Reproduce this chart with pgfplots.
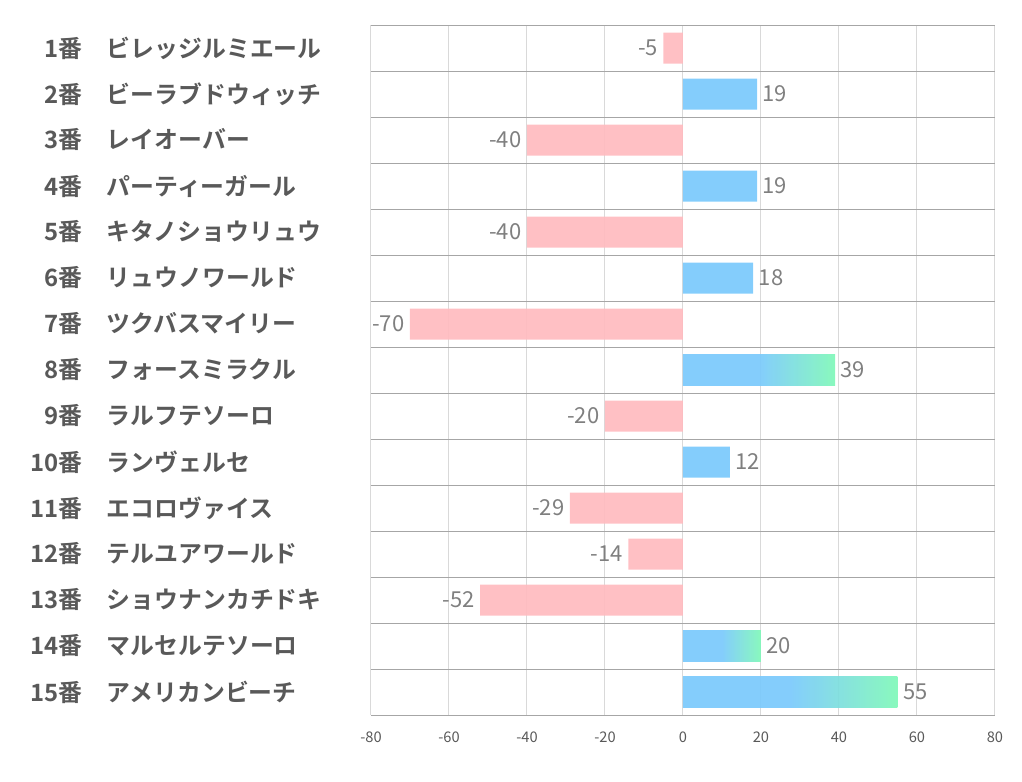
\documentclass[border=0pt]{standalone}
\usepackage{fontspec}
\setmainfont{Noto Sans CJK JP}[BoldFont={Noto Sans CJK JP Bold}]
\usepackage{pgfplots}
\pgfplotsset{compat=1.18}
\definecolor{barpink}{HTML}{FFBBBF}
\definecolor{barblue}{HTML}{7AC9FC}
\definecolor{bargreen}{HTML}{7FF8B8}
\definecolor{lblgray}{HTML}{595959}
\definecolor{valgray}{HTML}{7F7F7F}
\definecolor{hgrid}{HTML}{A6A6A6}
\definecolor{vgrid}{HTML}{D9D9D9}
\pgfdeclarehorizontalshading{bluegreen}{100bp}{color(0bp)=(barblue); color(50bp)=(barblue); color(75bp)=(bargreen); color(100bp)=(bargreen)}
\newcommand{\lbl}[2]{\makebox[39pt][r]{#1}\hspace{18.5pt}#2}
\begin{document}
\begin{tikzpicture}
\path[use as bounding box] (0,0) rectangle (766.5pt,586.5pt);
\begin{axis}[
  at={(278.25pt,50.25pt)}, anchor=south west,
  scale only axis, width=468pt, height=517.5pt,
  xmin=-80, xmax=80, ymin=0.5, ymax=15.5,
  y dir=reverse,
  xtick={-80,-60,...,80},
  ytick={1,...,15},
  minor ytick={0.5,1.5,...,15.5},
  yticklabels={
    \lbl{1番}{ビレッジルミエール},
    \lbl{2番}{ビーラブドウィッチ},
    \lbl{3番}{レイオーバー},
    \lbl{4番}{パーティーガール},
    \lbl{5番}{キタノショウリュウ},
    \lbl{6番}{リュウノワールド},
    \lbl{7番}{ツクバスマイリー},
    \lbl{8番}{フォースミラクル},
    \lbl{9番}{ラルフテソーロ},
    \lbl{10番}{ランヴェルセ},
    \lbl{11番}{エコロヴァイス},
    \lbl{12番}{テルユアワールド},
    \lbl{13番}{ショウナンカチドキ},
    \lbl{14番}{マルセルテソーロ},
    \lbl{15番}{アメリカンビーチ}},
  axis line style={draw=none},
  major tick length=0pt, minor tick length=0pt,
  xmajorgrids, yminorgrids, ymajorgrids=false,
  major grid style={vgrid, line width=0.75pt},
  minor grid style={hgrid, line width=0.75pt},
  /pgf/number format/assume math mode=true,
  xticklabel style={font=\fontsize{11}{13}\selectfont, text=lblgray, yshift=-9pt},
  yticklabel style={anchor=west, inner sep=0pt, xshift=-255.75pt,
    font=\fontsize{17.9}{20}\selectfont\bfseries, text=lblgray},
  xbar, bar shift=0pt, bar width=23.25pt,
  point meta=x,
  nodes near coords,
  every node near coord/.append style={font=\fontsize{16.5}{18}\selectfont, text=valgray, inner sep=4pt},
]
\addplot[draw=none, fill=barpink, fill opacity=0.92, text opacity=1,
  every node near coord/.append style={anchor=east}]
  coordinates {(-5,1) (-40,3) (-40,5) (-70,7) (-20,9) (-29,11) (-14,12) (-52,13)};
\addplot[draw=none, fill=barblue, fill opacity=0.92, text opacity=1,
  every node near coord/.append style={anchor=west}]
  coordinates {(19,2) (19,4) (18,6) (12,10)};
\addplot[draw=none, shading=bluegreen, fill opacity=0.92, text opacity=1,
  every node near coord/.append style={anchor=west}]
  coordinates {(39,8)};
\addplot[draw=none, shading=bluegreen, fill opacity=0.92, text opacity=1,
  every node near coord/.append style={anchor=west}]
  coordinates {(20,14)};
\addplot[draw=none, shading=bluegreen, fill opacity=0.92, text opacity=1,
  every node near coord/.append style={anchor=west}]
  coordinates {(55,15)};
\end{axis}
\end{tikzpicture}
\end{document}
